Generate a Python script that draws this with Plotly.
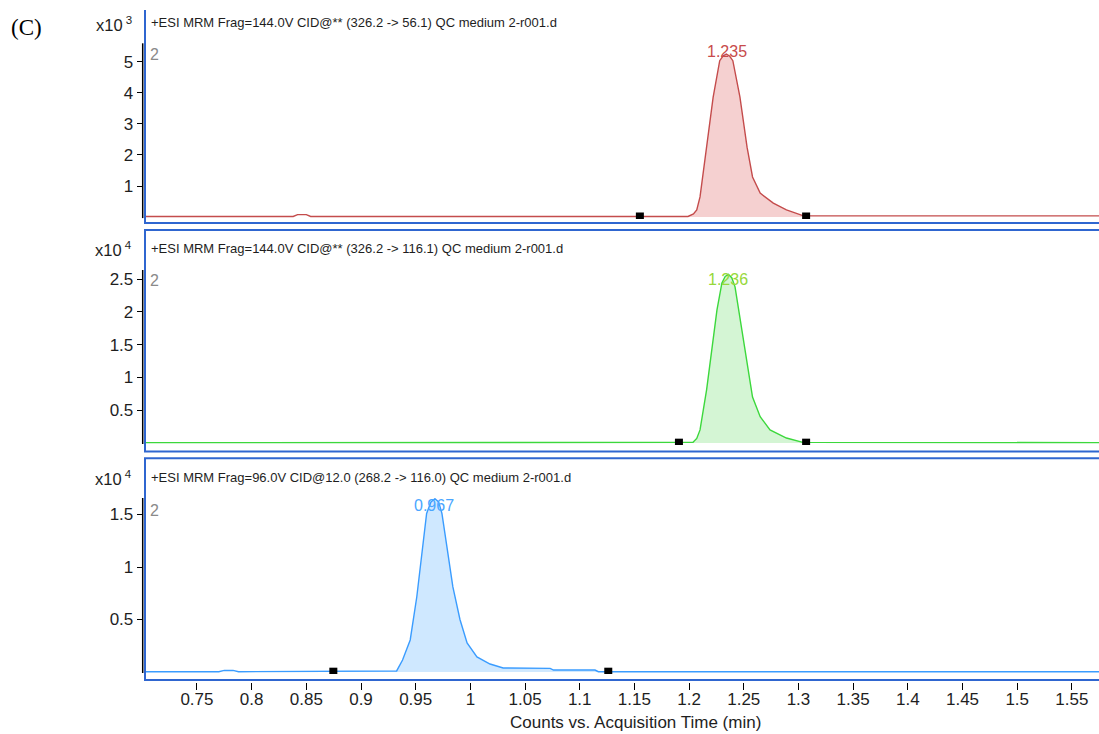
import plotly.graph_objects as go

# ---------------- data ----------------
titles = [
    "+ESI MRM Frag=144.0V CID@** (326.2 -> 56.1) QC medium 2-r001.d",
    "+ESI MRM Frag=144.0V CID@** (326.2 -> 116.1) QC medium 2-r001.d",
    "+ESI MRM Frag=96.0V CID@12.0 (268.2 -> 116.0) QC medium 2-r001.d",
]
exponents = ["3", "4", "4"]
peak_labels = ["1.235", "1.236", "0.967"]
peak_label_y = [5.32, 2.485, 1.59]
peak_times = [1.235, 1.236, 0.967]

# panel 1 (counts x10^3)
t1 = [0.70, 0.838, 0.842, 0.850, 0.854, 1.150, 1.199, 1.204, 1.207, 1.210,
      1.216, 1.222, 1.228, 1.231, 1.234, 1.237, 1.240, 1.2465, 1.253, 1.258,
      1.265, 1.277, 1.289, 1.304, 1.310, 1.58]
y1 = [0.02, 0.02, 0.08, 0.08, 0.02, 0.02, 0.02, 0.10, 0.23, 0.65,
      2.25, 3.86, 5.03, 5.18, 5.24, 5.18, 5.03, 3.86, 2.25, 1.29,
      0.77, 0.45, 0.23, 0.05, 0.04, 0.04]
m1 = [1.155, 1.307]

# panel 2 (counts x10^4)
t2 = [0.70, 1.200, 1.2036, 1.207, 1.210, 1.216, 1.221, 1.2255, 1.230, 1.233,
      1.236, 1.239, 1.242, 1.2465, 1.253, 1.258, 1.265, 1.274, 1.289, 1.304, 1.58]
y2 = [0.005, 0.005, 0.01, 0.07, 0.20, 0.81, 1.42, 2.03, 2.44, 2.54,
      2.57, 2.52, 2.38, 1.92, 1.26, 0.70, 0.40, 0.20, 0.076, 0.01, 0.005]
m2 = [1.1907, 1.307]

# panel 3 (counts x10^4)
t3 = [0.70, 0.770, 0.775, 0.783, 0.788, 0.930, 0.9326, 0.938, 0.945, 0.951,
      0.956, 0.960, 0.964, 0.9676, 0.971, 0.974, 0.9786, 0.984, 0.9905, 0.997,
      1.006, 1.018, 1.030, 1.073, 1.076, 1.114, 1.117, 1.58]
y3 = [0.003, 0.003, 0.015, 0.015, 0.003, 0.003, 0.01, 0.114, 0.305, 0.714,
      1.13, 1.51, 1.62, 1.65, 1.62, 1.51, 1.19, 0.81, 0.50, 0.276,
      0.143, 0.076, 0.038, 0.035, 0.019, 0.019, 0.003, 0.003]
m3 = [0.8747, 1.1261]

ytick_vals = [[1, 2, 3, 4, 5], [0.5, 1, 1.5, 2, 2.5], [0.5, 1, 1.5]]
ytick_text = [["1", "2", "3", "4", "5"], ["0.5", "1", "1.5", "2", "2.5"], ["0.5", "1", "1.5"]]
xtick_vals = [0.75, 0.8, 0.85, 0.9, 0.95, 1.0, 1.05, 1.1, 1.15, 1.2, 1.25,
              1.3, 1.35, 1.4, 1.45, 1.5, 1.55]
xtick_text = ["0.75", "0.8", "0.85", "0.9", "0.95", "1", "1.05", "1.1", "1.15",
              "1.2", "1.25", "1.3", "1.35", "1.4", "1.45", "1.5", "1.55"]
x_title = "Counts vs. Acquisition Time (min)"

# ---------------- styling / layout ----------------
W, H = 1099, 734
def PX(x):
    return x / W
def PY(y):
    return 1 - y / H

FONT = "Liberation Sans, Arial, sans-serif"
TXT = "#1e1e1e"
line_cols = ["#c44c4c", "#3cd83c", "#3a9cff"]
fill_cols = ["rgba(236,170,170,0.55)", "rgba(170,236,170,0.5)", "rgba(160,210,255,0.5)"]
label_cols = ["#c84b4b", "#96d83a", "#4aa6ff"]
FRAME = "#2f66d0"

# pixel geometry: (axis top, axis bottom, zero pixel, px per unit)
geo = [(43.3, 219.0, 217.1, 31.1), (270.0, 445.0, 443.0, 65.6), (498.0, 674.0, 672.0, 105.0)]
frames = [(10.0, 223.0, False), (230.0, 451.5, True), (458.3, 680.0, True)]
title_y = [23, 248, 477]
two_y = [55, 280, 510]

data = [(t1, y1, m1), (t2, y2, m2), (t3, y3, m3)]
fig = go.Figure()
for i, (t, y, m) in enumerate(data):
    yname = "y" if i == 0 else f"y{i+1}"
    ft = [a for a in t if m[0] <= a <= m[1]]
    fy = [b for a, b in zip(t, y) if m[0] <= a <= m[1]]
    fig.add_trace(go.Scatter(x=ft, y=fy, xaxis="x", yaxis=yname, mode="lines",
                             line=dict(width=0), fill="tozeroy",
                             fillcolor=fill_cols[i], hoverinfo="skip"))
    fig.add_trace(go.Scatter(x=t, y=y, xaxis="x", yaxis=yname, mode="lines",
                             line=dict(color=line_cols[i], width=1.4)))
    base = y[0]
    fig.add_trace(go.Scatter(x=m, y=[base, base], xaxis="x", yaxis=yname,
                             mode="markers",
                             marker=dict(symbol="square", size=8, color="black")))

layout = dict(
    width=W, height=H, margin=dict(l=0, r=0, t=0, b=0), autosize=False,
    plot_bgcolor="white", paper_bgcolor="white", showlegend=False,
    font=dict(family=FONT, size=13, color=TXT),
    xaxis=dict(domain=[PX(145), 1.0], range=[0.7025, 1.5748], anchor="free",
               position=PY(682), ticks="outside", ticklen=7, tickwidth=1,
               tickcolor="black", tickvals=xtick_vals, ticktext=xtick_text,
               ticklabelstandoff=-5,
               showgrid=False, zeroline=False, showline=False,
               tickfont=dict(family=FONT, size=17, color=TXT)),
)
for i, (top, bot, zero, sc) in enumerate(geo):
    key = "yaxis" if i == 0 else f"yaxis{i+1}"
    layout[key] = dict(domain=[PY(bot), PY(top)],
                       range=[-(bot - zero) / sc, (zero - top) / sc],
                       anchor="free", position=PX(142.7), ticks="outside",
                       ticklen=6, tickwidth=1, tickcolor="black",
                       tickvals=ytick_vals[i], ticktext=ytick_text[i],
                       showgrid=False, zeroline=False, showline=False,
                       tickfont=dict(family=FONT, size=17, color=TXT))
fig.update_layout(**layout)

shapes = []
for i, (ftop, fbot, has_top) in enumerate(frames):
    shapes.append(dict(type="line", xref="paper", yref="paper", x0=PX(145), x1=PX(145),
                       y0=PY(ftop), y1=PY(fbot), line=dict(color=FRAME, width=2)))
    shapes.append(dict(type="line", xref="paper", yref="paper", x0=PX(144), x1=1.0,
                       y0=PY(fbot), y1=PY(fbot), line=dict(color=FRAME, width=2)))
    if has_top:
        shapes.append(dict(type="line", xref="paper", yref="paper", x0=PX(144), x1=1.0,
                           y0=PY(ftop), y1=PY(ftop), line=dict(color=FRAME, width=2)))
    top, bot, zero, sc = geo[i]
    shapes.append(dict(type="line", xref="paper", yref="paper", x0=PX(142.7), x1=PX(142.7),
                       y0=PY(top), y1=PY(zero + 1), line=dict(color="black", width=1.5)))
fig.update_layout(shapes=shapes)

ann = []
ann.append(dict(text="(C)", xref="paper", yref="paper", x=PX(9), y=PY(27),
                xanchor="left", yanchor="middle", showarrow=False,
                font=dict(family="Liberation Serif, Times New Roman, serif", size=23, color="black")))
for i in range(3):
    yref = "y" if i == 0 else f"y{i+1}"
    ann.append(dict(text=titles[i], xref="paper", yref="paper", x=PX(149), y=PY(title_y[i]),
                    xanchor="left", yanchor="middle", showarrow=False,
                    font=dict(family=FONT, size=13, color=TXT)))
    ann.append(dict(text="x10<sup> " + exponents[i] + "</sup>", xref="paper", yref="paper",
                    x=PX(134), y=PY(title_y[i] + 1), xanchor="right", yanchor="middle",
                    showarrow=False, font=dict(family=FONT, size=16.5, color=TXT)))
    ann.append(dict(text="2", xref="paper", yref="paper", x=PX(148), y=PY(two_y[i]),
                    xanchor="left", yanchor="middle", showarrow=False,
                    font=dict(family=FONT, size=16, color="#8a8a8a")))
    ann.append(dict(text=peak_labels[i], xref="x", yref=yref, x=peak_times[i], y=peak_label_y[i],
                    xanchor="center", yanchor="middle", showarrow=False,
                    font=dict(family=FONT, size=16, color=label_cols[i])))
ann.append(dict(text=x_title, xref="paper", yref="paper", x=PX(635), y=PY(722),
                xanchor="center", yanchor="middle", showarrow=False,
                font=dict(family=FONT, size=17, color=TXT)))
fig.update_layout(annotations=ann)

fig.write_html("out.html", post_script="document.body.style.margin='0px';",
               config={"displayModeBar": False})
